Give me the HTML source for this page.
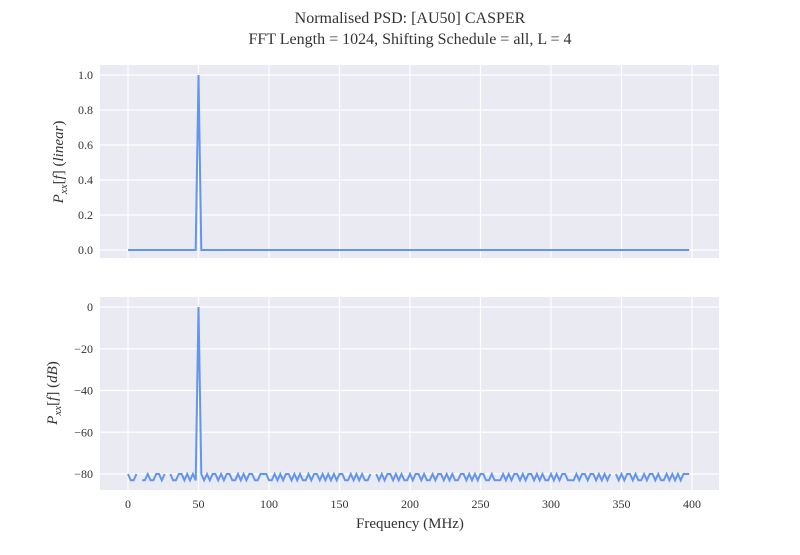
<!DOCTYPE html>
<html><head><meta charset="utf-8"><style>
body{margin:0;background:#fff}
svg text{font-family:"Liberation Serif",serif;fill:#333}
</style></head><body>
<svg id="chart" width="800" height="550" viewBox="0 0 800 550" xmlns="http://www.w3.org/2000/svg">
<text x="410" y="23" font-size="16" text-anchor="middle">Normalised PSD: [AU50] CASPER</text>
<text x="410" y="44" font-size="16" text-anchor="middle">FFT Length = 1024, Shifting Schedule = all, L = 4</text>
<g id="top"></g>
<g id="bot"></g>
<text x="410" y="528" font-size="15" text-anchor="middle">Frequency (MHz)</text>
<text transform="translate(63,162) rotate(-90)" font-size="15" text-anchor="middle" font-style="italic">P<tspan font-size="11" dy="4">xx</tspan><tspan dy="-4" font-style="normal">[</tspan>f<tspan font-style="normal">] (</tspan>linear<tspan font-style="normal">)</tspan></text>
<text transform="translate(57,393) rotate(-90)" font-size="15" text-anchor="middle" font-style="italic">P<tspan font-size="11" dy="4">xx</tspan><tspan dy="-4" font-style="normal">[</tspan>f<tspan font-style="normal">] (</tspan>dB<tspan font-style="normal">)</tspan></text>
</svg>
<script>
const xTicks=[0,50,100,150,200,250,300,350,400];
const topTicks=[0,0.2,0.4,0.6,0.8,1.0];
const botTicks=[-80,-60,-40,-20,0];
const freqStep=2;
const dbValues=[
-80,-83,-83,-80,null,-83,-83,-80,-83,-83,-80,-80,-83,-80,null,-80,-83,-83,-80,-80,
-83,-80,-83,-80,-83,0,-80,-83,-80,-83,-80,-80,-83,-80,-83,-80,-80,-83,-83,-80,
-83,-80,-83,-80,-80,-83,-83,-80,-80,-80,-83,-83,-80,-83,-80,-83,-80,-80,-83,-80,
-83,-80,-83,-83,-80,-83,-80,-80,-83,-80,-83,-80,-83,-80,-83,-80,-80,-83,-83,-80,
-83,-80,-83,-80,-83,-83,-80,null,-80,-83,-80,-83,-80,-80,-83,-80,-83,-80,-83,-83,
-80,-83,-80,-80,-83,-80,-83,-83,-80,-83,-80,-80,-83,-80,-83,-80,-83,-83,-80,-80,
-83,-80,-83,-80,-83,-80,-80,-83,-83,-80,-83,-83,-83,-80,-83,-80,-83,-80,-80,-83,
-80,-83,-80,-80,-83,-80,-83,-80,-83,-83,-80,-83,-80,-83,-80,-80,-83,-83,-83,-80,
-83,-80,-80,-83,-80,-80,-83,-80,-83,-80,-83,-80,null,-80,-83,-80,-83,-80,-80,-83,
-80,-83,-83,-80,-83,-80,-80,-83,-80,-83,-83,-80,-83,-80,-83,-80,-83,-80,-80,-80
];
const NS="http://www.w3.org/2000/svg";
const L=100,R=719,X0=128,X1=692;
function xs(v){return X0+(X1-X0)*v/400;}
function mk(tag,attrs,parent){const e=document.createElementNS(NS,tag);for(const k in attrs)e.setAttribute(k,attrs[k]);parent.appendChild(e);return e;}
function panel(g,top,bot,ticks,ys,fmt,vals,tickName,lineName){
  const bg=mk('rect',{x:L,y:top,width:R-L,height:bot-top,fill:'#eaeaf2'},g);
  
  
  xTicks.forEach(t=>{const l=mk('line',{x1:xs(t),x2:xs(t),y1:top,y2:bot,stroke:'#fff','stroke-width':1.2},g);
    
    });
  ticks.forEach(t=>{const l=mk('line',{x1:L,x2:R,y1:ys(t),y2:ys(t),stroke:'#fff','stroke-width':1.2},g);
    
    
    const tx=mk('text',{x:93,y:ys(t)+4,'font-size':12,'text-anchor':'end'},g);tx.textContent=fmt(t);
    
    });
  let d='',pen=false;
  vals.forEach((v,i)=>{if(v===null){pen=false;return;}const px=xs(i*freqStep),py=ys(v);d+=(pen?'L':'M')+px.toFixed(1)+' '+py.toFixed(1);pen=true;});
  const p=mk('path',{d:d,fill:'none',stroke:'#6495ed','stroke-width':2,'stroke-linejoin':'miter'},g);
  
  
}
const topVals=dbValues.map(v=>v===null?0:Math.pow(10,v/10));
panel(document.getElementById('top'),65,258,topTicks,v=>250-175*v,t=>t.toFixed(1),topVals,'top-y-tick-label','psd-linear-line');
panel(document.getElementById('bot'),297,490,botTicks,v=>307+(474-307)*(v/-80),t=>t===0?'0':'\u2212'+Math.abs(t),dbValues,'bottom-y-tick-label','psd-db-line');
const svg=document.getElementById('chart');
xTicks.forEach(t=>{const tx=mk('text',{x:xs(t),y:508,'font-size':12,'text-anchor':'middle'},svg);tx.textContent=t;
  
  });
</script>
</body></html>
